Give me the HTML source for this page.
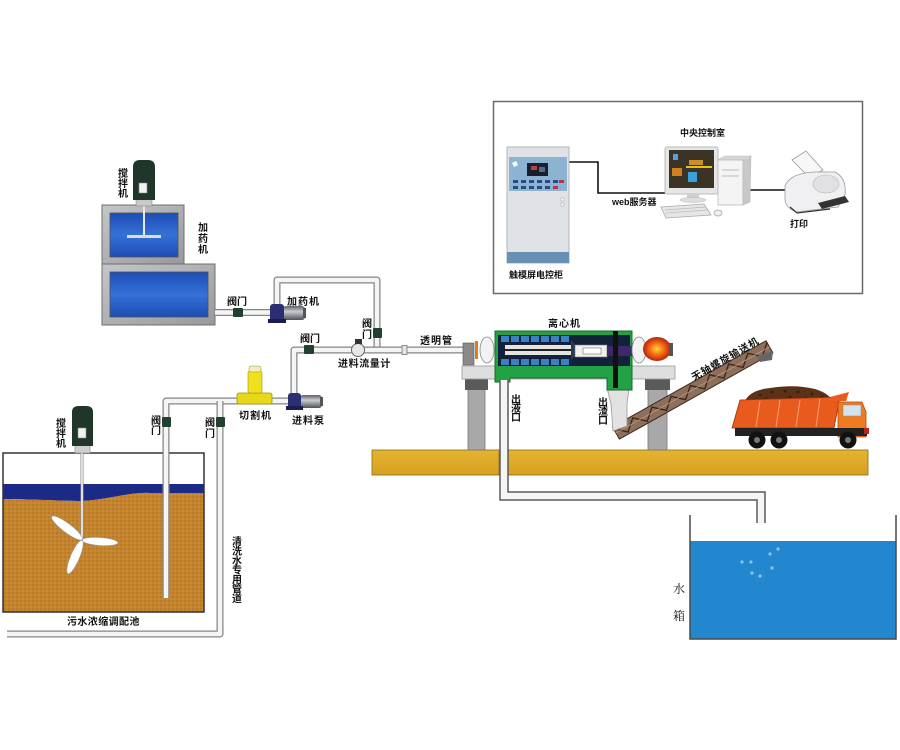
<!DOCTYPE html>
<html><head><meta charset="utf-8"><style>
html,body{margin:0;padding:0;background:#fff;}
svg{display:block;}
text{font-family:"Liberation Sans","Noto Sans CJK SC",sans-serif;font-weight:bold;fill:#111;font-size:10px;}
.v{text-anchor:middle;}
.p1{fill:none;stroke:#858585;stroke-width:7;stroke-linejoin:round;}
.p2{fill:none;stroke:#f5f5f5;stroke-width:4.5;stroke-linejoin:round;}
</style></head><body>
<svg width="900" height="750" viewBox="0 0 900 750" xmlns="http://www.w3.org/2000/svg">
<defs>
 <linearGradient id="blueT" x1="0" y1="0" x2="0" y2="1"><stop offset="0" stop-color="#1d4db5"/><stop offset=".5" stop-color="#3571d6"/><stop offset="1" stop-color="#1d4db5"/></linearGradient>
 <linearGradient id="frameG" x1="0" y1="0" x2="1" y2="1"><stop offset="0" stop-color="#c4c6c8"/><stop offset="1" stop-color="#97999c"/></linearGradient>
 <pattern id="sand" width="4" height="4" patternUnits="userSpaceOnUse"><rect width="4" height="4" fill="#c4842e"/><circle cx="1" cy="1" r=".7" fill="#a96b1f"/><circle cx="3" cy="3" r=".6" fill="#d79b48"/></pattern>
 <radialGradient id="motorR"><stop offset="0" stop-color="#ffd43a"/><stop offset=".55" stop-color="#f26512"/><stop offset="1" stop-color="#b42512"/></radialGradient>
 <linearGradient id="groundG" x1="0" y1="0" x2="0" y2="1"><stop offset="0" stop-color="#e6b430"/><stop offset="1" stop-color="#d6a022"/></linearGradient>
 <linearGradient id="motorG" x1="0" y1="0" x2="0" y2="1"><stop offset="0" stop-color="#5d6168"/><stop offset=".4" stop-color="#c9ccd0"/><stop offset="1" stop-color="#4d5158"/></linearGradient>
</defs>

<!-- control room box -->
<rect x="493.5" y="101.5" width="369" height="192" fill="#fff" stroke="#6a6a6a" stroke-width="1.5"/>
<path d="M569,162 H598 V193 H665" fill="none" stroke="#111" stroke-width="1.6"/>
<path d="M748,190 H787" fill="none" stroke="#111" stroke-width="1.6"/>
<!-- cabinet -->
<rect x="507" y="147" width="62" height="116" fill="#dfe2e6" stroke="#b0b4ba"/>
<rect x="509" y="157" width="58" height="34" fill="#8cb4d2"/>
<rect x="527" y="163" width="21" height="13" fill="#1a1f30"/>
<rect x="531" y="166" width="6" height="4" fill="#c04040"/><rect x="539" y="167" width="6" height="5" fill="#5a6a80"/>
<path d="M512,163 l4,-2 l2,4 l-4,2z" fill="#fff"/>
<g fill="#2a4a80"><rect x="513" y="180" width="5" height="3"/><rect x="521" y="180" width="5" height="3"/><rect x="529" y="180" width="5" height="3"/><rect x="537" y="180" width="5" height="3"/><rect x="545" y="180" width="5" height="3"/><rect x="553" y="180" width="5" height="3"/>
<rect x="513" y="186" width="5" height="3"/><rect x="521" y="186" width="5" height="3"/><rect x="529" y="186" width="5" height="3"/><rect x="537" y="186" width="5" height="3"/><rect x="545" y="186" width="5" height="3"/></g>
<rect x="553" y="186" width="5" height="3" fill="#c03040"/><rect x="559" y="180" width="5" height="3" fill="#c03040"/>
<rect x="561" y="198" width="3" height="3" fill="#fff" stroke="#999" stroke-width=".5"/><rect x="561" y="203" width="3" height="3" fill="#fff" stroke="#999" stroke-width=".5"/>
<rect x="507" y="252" width="62" height="11" fill="#6a8fb5"/>
<!-- monitor -->
<rect x="665" y="147" width="53" height="47" rx="2" fill="#e6e6e6" stroke="#bbb"/>
<rect x="669" y="150" width="45" height="38" fill="#3a3326"/>
<rect x="672" y="168" width="10" height="8" fill="#d0801a"/>
<rect x="688" y="172" width="9" height="10" fill="#3aa0d8"/>
<rect x="689" y="160" width="14" height="5" fill="#c89028"/>
<line x1="686" y1="167" x2="712" y2="167" stroke="#e8c020" stroke-width="2"/>
<rect x="673" y="154" width="5" height="6" fill="#5aa0d8"/>
<rect x="687" y="194" width="12" height="5" fill="#cfcfcf"/>
<ellipse cx="693" cy="200" rx="13" ry="2.5" fill="#ddd" stroke="#bbb" stroke-width=".5"/>
<!-- tower -->
<polygon points="718,160 725,156 751,156 748,160" fill="#d6d6d6" stroke="#bbb" stroke-width=".6"/>
<rect x="718" y="160" width="25" height="45" fill="#f4f4f4" stroke="#bbb" stroke-width=".8"/>
<polygon points="743,160 748,160 751,156 750,202 743,205" fill="#c8c8c8" stroke="#bbb" stroke-width=".6"/>
<line x1="722" y1="170" x2="739" y2="170" stroke="#bbb"/><line x1="722" y1="176" x2="739" y2="176" stroke="#bbb"/>
<!-- keyboard & mouse -->
<polygon points="661,207 704,204 711,215 666,218" fill="#e6e6e6" stroke="#aaa" stroke-width=".8"/>
<path d="M665,210 L706,207 M666,213 L708,210" stroke="#bcbcbc" stroke-width=".8"/>
<ellipse cx="718" cy="213" rx="4" ry="3" fill="#eee" stroke="#aaa" stroke-width=".8"/>
<!-- printer -->
<polygon points="792,160 806,151 823,170 809,177" fill="#f7f7f7" stroke="#999" stroke-width=".8"/>
<path d="M785,186 Q790,173 815,172 L835,172 Q847,178 845,195 L838,207 L796,212 Q786,208 785,200 Z" fill="#f0f0f2" stroke="#999" stroke-width=".8"/>
<ellipse cx="826" cy="184" rx="13" ry="9" fill="#e0e0e5" stroke="#bbb" stroke-width=".6"/>
<polygon points="818,203 845,196 849,202 822,209" fill="#333"/>
<path d="M790,207 L797,213 L830,209" fill="none" stroke="#333" stroke-width="1.2"/>
<text x="680" y="136" style="font-size:9px">中央控制室</text>
<text x="612" y="205" style="font-size:9px">web服务器</text>
<text x="509" y="278" style="font-size:9px">触模屏电控柜</text>
<text x="790" y="227" style="font-size:9px">打印</text>

<!-- dosing tanks -->
<rect x="102" y="264" width="113" height="61" fill="url(#frameG)" stroke="#6f6f6f"/>
<rect x="110" y="272" width="98" height="45" fill="url(#blueT)" stroke="#505050" stroke-width=".8"/>
<rect x="102" y="205" width="82" height="59" fill="url(#frameG)" stroke="#6f6f6f"/>
<rect x="110" y="213" width="68" height="44" fill="url(#blueT)" stroke="#505050" stroke-width=".8"/>
<line x1="144" y1="205" x2="144" y2="236" stroke="#e8e8e8" stroke-width="2"/>
<rect x="127" y="235" width="34" height="3" fill="#dcdcdc"/>
<rect x="136" y="197" width="16" height="9" fill="#c9c9c9" stroke="#888" stroke-width=".6"/>
<path d="M133,200 V167 Q133,160 140,160 H148 Q155,160 155,167 V200 Z" fill="#1f3629"/>
<rect x="139" y="183" width="8" height="10" fill="#f2f2f2" stroke="#888" stroke-width=".6"/>
<g style="font-size:9px"><text class="v" x="123" y="177">搅</text><text class="v" x="123" y="187">拌</text><text class="v" x="123" y="197">机</text>
<text class="v" x="203" y="231">加</text><text class="v" x="203" y="242">药</text><text class="v" x="203" y="253">机</text></g>

<!-- ground -->
<rect x="372" y="450" width="127" height="25" fill="url(#groundG)" stroke="#8a6a1a" stroke-width=".8"/>
<rect x="508" y="450" width="360" height="25" fill="url(#groundG)" stroke="#8a6a1a" stroke-width=".8"/>

<!-- left tank -->
<rect x="3" y="453" width="201" height="159" fill="#fff"/>
<path d="M3,484 H204 V493 L150,493 C130,492 105,500 82,501 C60,501 30,499 3,499 Z" fill="#1b2a86"/>
<path d="M3,499 C30,499 60,501 82,501 C105,500 130,492 150,493 L204,493 L204,612 L3,612 Z" fill="url(#sand)"/>
<rect x="3" y="453" width="201" height="159" fill="none" stroke="#333" stroke-width="1.5"/>
<line x1="82" y1="452" x2="82" y2="540" stroke="#888" stroke-width="3"/>
<line x1="82" y1="452" x2="82" y2="540" stroke="#f4f4f4" stroke-width="1.6"/>
<ellipse cx="67" cy="528" rx="19" ry="4.5" transform="rotate(37 67 528)" fill="#fff" stroke="#999" stroke-width=".6"/>
<ellipse cx="100" cy="541.5" rx="18" ry="4" transform="rotate(4 100 541.5)" fill="#fff" stroke="#999" stroke-width=".6"/>
<ellipse cx="75" cy="557" rx="18" ry="4.5" transform="rotate(113 75 557)" fill="#fff" stroke="#999" stroke-width=".6"/>
<rect x="75" y="444" width="15" height="9" fill="#d0d0d0" stroke="#888" stroke-width=".6"/>
<path d="M72,446 V412 Q72,406 79,406 H86 Q93,406 93,412 V446 Z" fill="#1f3629"/>
<rect x="78" y="428" width="8" height="10" fill="#f2f2f2" stroke="#888" stroke-width=".6"/>
<g style="font-size:9px"><text class="v" x="61" y="427">搅</text><text class="v" x="61" y="437">拌</text><text class="v" x="61" y="447">机</text></g>
<text x="67" y="625" style="letter-spacing:.4px">污水浓缩调配池</text>

<!-- pipes -->
<path class="p1" d="M215,312.5 H273"/><path class="p2" d="M215,312.5 H273"/>
<path class="p1" d="M277,312 V280 H377 V350"/><path class="p2" d="M277,312 V280 H377 V350"/>
<path class="p1" d="M166,598 V401 H292"/><path class="p2" d="M166,598 V401 H292"/>
<path class="p1" d="M294,396 V350 H464"/><path class="p2" d="M294,396 V350 H464"/>
<path class="p1" d="M220,401 V634 H7"/><path class="p2" d="M220,401 V634 H7"/>
<!-- fittings -->
<rect x="402" y="345.5" width="5" height="9" fill="#e4e4e4" stroke="#777" stroke-width=".8"/>
<circle cx="358" cy="350" r="6.5" fill="#e8e8e8" stroke="#666"/>
<rect x="355" y="339" width="7" height="5" fill="#333"/>
<!-- valves -->
<g fill="#22402f"><rect x="233" y="308" width="10" height="9" rx="1"/><rect x="304" y="345" width="10" height="9" rx="1"/><rect x="373" y="328" width="9" height="10" rx="1"/><rect x="162" y="417" width="9" height="10" rx="1"/><rect x="216" y="417" width="9" height="10" rx="1"/></g>
<!-- dosing pump -->
<rect x="283" y="306" width="22" height="14" rx="3" fill="url(#motorG)"/>
<rect x="303" y="308" width="3" height="10" fill="#555"/>
<rect x="270" y="304" width="14" height="18" rx="3" fill="#2b2e72"/>
<rect x="268" y="319" width="18" height="4" fill="#1a1d50"/>
<!-- feed pump -->
<rect x="300" y="395" width="22" height="13" rx="3" fill="url(#motorG)"/>
<rect x="320" y="397" width="3" height="9" fill="#555"/>
<rect x="288" y="393" width="13" height="16" rx="3" fill="#2b2e72"/>
<rect x="286" y="406" width="17" height="4" fill="#1a1d50"/>
<!-- cutter -->
<rect x="237" y="393" width="35" height="11" rx="2" fill="#e8d81a" stroke="#a09010" stroke-width=".8"/>
<rect x="248" y="371" width="14" height="22" rx="2" fill="#efe020" stroke="#a09010" stroke-width=".6"/>
<rect x="249" y="366" width="12" height="6" rx="2" fill="#f0eec0" stroke="#a09010" stroke-width=".5"/>

<!-- labels pipes -->
<text x="227" y="305">阀门</text>
<text x="287" y="305" style="letter-spacing:1px">加药机</text>
<text x="300" y="342">阀门</text>
<g style="font-size:9px"><text class="v" x="367" y="327">阀</text><text class="v" x="367" y="338">门</text></g>
<text x="338" y="367" style="letter-spacing:.6px">进料流量计</text>
<text x="420" y="344" style="letter-spacing:1px">透明管</text>
<text x="239" y="419" style="letter-spacing:1px">切割机</text>
<text x="292" y="424" style="letter-spacing:1px">进料泵</text>
<g style="font-size:9px"><text class="v" x="156" y="424">阀</text><text class="v" x="156" y="434">门</text>
<text class="v" x="210" y="426">阀</text><text class="v" x="210" y="437">门</text></g>
<g style="font-size:8.5px"><text class="v" x="237" y="545">清</text><text class="v" x="237" y="554.5">洗</text><text class="v" x="237" y="564">水</text><text class="v" x="237" y="573.5">专</text><text class="v" x="237" y="583">用</text><text class="v" x="237" y="592.5">管</text><text class="v" x="237" y="602">道</text></g>

<!-- centrifuge legs -->
<rect x="468" y="389" width="17" height="61" fill="#a8a8a8" stroke="#777" stroke-width=".8"/>
<rect x="465" y="379" width="23" height="11" fill="#5a5a5a"/>
<rect x="648" y="389" width="19" height="61" fill="#a8a8a8" stroke="#777" stroke-width=".8"/>
<rect x="645" y="379" width="25" height="11" fill="#5a5a5a"/>
<!-- conveyor -->
<g transform="translate(616,433) rotate(-29.3)">
<rect x="0" y="-7" width="176" height="14" fill="#8d6f5b" stroke="#3a2a20" stroke-width="1"/>
<path d="M0,-5 L11,5 L22,-5 L33,5 L44,-5 L55,5 L66,-5 L77,5 L88,-5 L99,5 L110,-5 L121,5 L132,-5 L143,5 L154,-5 L165,5 L176,-5" fill="none" stroke="#3a2318" stroke-width="1.3"/>
<line x1="0" y1="0" x2="176" y2="0" stroke="#b89a85" stroke-width=".8"/>
</g>
<polygon points="757,356 773,351 772,360 760,362" fill="#666"/>
<text transform="translate(694,381) rotate(-30)" style="letter-spacing:.9px">无轴螺旋输送机</text>
<!-- platform -->
<rect x="462" y="366" width="213" height="13" fill="#dedede" stroke="#999" stroke-width=".8"/>
<!-- hopper -->
<path d="M607,388 H629 L627,404 V426 L613,431 L611,404 Z" fill="#e2e2e2" stroke="#999" stroke-width=".8"/>
<!-- green housing -->
<path d="M495,331 H632 V390 H607 V378 H510 V382 H495 Z" fill="#22a245" stroke="#156a2a" stroke-width="1"/>
<rect x="498" y="335" width="132" height="31" fill="#14213a"/>
<g fill="#3d7fc4"><rect x="501" y="336" width="8" height="6"/><rect x="511" y="336" width="8" height="6"/><rect x="521" y="336" width="8" height="6"/><rect x="531" y="336" width="8" height="6"/><rect x="541" y="336" width="8" height="6"/><rect x="551" y="336" width="8" height="6"/><rect x="561" y="336" width="8" height="6"/>
<rect x="501" y="359" width="8" height="6"/><rect x="511" y="359" width="8" height="6"/><rect x="521" y="359" width="8" height="6"/><rect x="531" y="359" width="8" height="6"/><rect x="541" y="359" width="8" height="6"/><rect x="551" y="359" width="8" height="6"/><rect x="561" y="359" width="8" height="6"/></g>
<rect x="505" y="345" width="66" height="10" fill="#e4e4e4"/>
<line x1="505" y1="350" x2="571" y2="350" stroke="#222" stroke-width="2"/>
<polygon points="571,340 575,344 575,356 571,360" fill="#2a3a50"/>
<rect x="575" y="345" width="32" height="12" fill="#f0f0f0" stroke="#777" stroke-width=".6"/>
<rect x="583" y="348" width="18" height="6" fill="#fff" stroke="#555" stroke-width=".5"/>
<rect x="607" y="346" width="34" height="10" fill="#3a2a6a"/>
<rect x="613" y="331" width="5" height="57" fill="#111"/>
<!-- ends -->
<rect x="463" y="343" width="11" height="22" fill="#8a8a8a" stroke="#555" stroke-width=".6"/>
<rect x="475" y="341" width="3" height="18" fill="#e07a20"/>
<ellipse cx="487" cy="350" rx="7" ry="13" fill="#f2f2f2" stroke="#888" stroke-width=".8"/>
<ellipse cx="639" cy="350" rx="7" ry="13" fill="#f2f2f2" stroke="#888" stroke-width=".8"/>
<ellipse cx="657" cy="349" rx="14" ry="12" fill="url(#motorR)"/>
<rect x="669" y="343" width="4" height="13" fill="#555"/>
<text x="548" y="327" style="letter-spacing:1px">离心机</text>
<g style="font-size:8.5px"><text class="v" x="516" y="403">出</text><text class="v" x="516" y="412">液</text><text class="v" x="516" y="421">口</text>
<text class="v" x="603" y="406">出</text><text class="v" x="603" y="415">渣</text><text class="v" x="603" y="424">口</text></g>

<!-- outlet pipe to water tank -->
<path d="M504,380 V496 H761 V523" fill="none" stroke="#5a5a5a" stroke-width="9.5" stroke-linejoin="miter"/>
<path d="M504,380 V496 H761 V523" fill="none" stroke="#f5f5f5" stroke-width="6.5" stroke-linejoin="miter"/>

<!-- truck -->
<path d="M745,401 Q750,390 770,388 Q795,384 815,389 Q828,393 832,400 Z" fill="#5a3218"/>
<g fill="#3a200e"><circle cx="760" cy="395" r="1.5"/><circle cx="772" cy="392" r="1.5"/><circle cx="785" cy="391" r="1.5"/><circle cx="798" cy="392" r="1.5"/><circle cx="812" cy="394" r="1.5"/><circle cx="766" cy="399" r="1.5"/><circle cx="790" cy="397" r="1.5"/><circle cx="806" cy="398" r="1.5"/><circle cx="822" cy="397" r="1.5"/></g>
<polygon points="740,400 840,397 834,428 732,428" fill="#e85a1e" stroke="#a33010" stroke-width=".8"/>
<path d="M760,401 L756,427 M780,400 L776,427 M800,400 L796,427 M820,399 L816,427" stroke="#f8a070" stroke-width="1"/>
<polygon points="830,397 849,392 846,401 836,401" fill="#e85a1e"/>
<path d="M838,402 H862 L866,412 V437 H838 Z" fill="#f07a20" stroke="#b04a10" stroke-width=".8"/>
<rect x="843" y="405" width="18" height="11" fill="#cfe4f0" stroke="#888" stroke-width=".5"/>
<rect x="735" y="428" width="132" height="8" fill="#222"/>
<rect x="864" y="428" width="5" height="6" fill="#c02020"/>
<g fill="#111"><circle cx="757" cy="440" r="8.5"/><circle cx="779" cy="440" r="8.5"/><circle cx="848" cy="440" r="8.5"/></g>
<g fill="#777"><circle cx="757" cy="440" r="3"/><circle cx="779" cy="440" r="3"/><circle cx="848" cy="440" r="3"/></g>

<!-- water tank -->
<rect x="690" y="541" width="206" height="98" fill="#2387cf"/>
<path d="M690,515 V639 H896 V515" fill="none" stroke="#4a4a4a" stroke-width="1.5"/>
<g fill="#8cc4ee"><circle cx="742" cy="562" r="1.6"/><circle cx="751" cy="562" r="1.6"/><circle cx="770" cy="554" r="1.6"/><circle cx="778" cy="549" r="1.6"/><circle cx="752" cy="573" r="1.6"/><circle cx="760" cy="576" r="1.6"/><circle cx="772" cy="568" r="1.6"/></g>
<text class="v" x="679" y="593" style="font-family:'Liberation Serif','Noto Serif CJK SC',serif;font-weight:normal;font-size:12px">水</text>
<text class="v" x="679" y="620" style="font-family:'Liberation Serif','Noto Serif CJK SC',serif;font-weight:normal;font-size:12px">箱</text>
</svg>
</body></html>
